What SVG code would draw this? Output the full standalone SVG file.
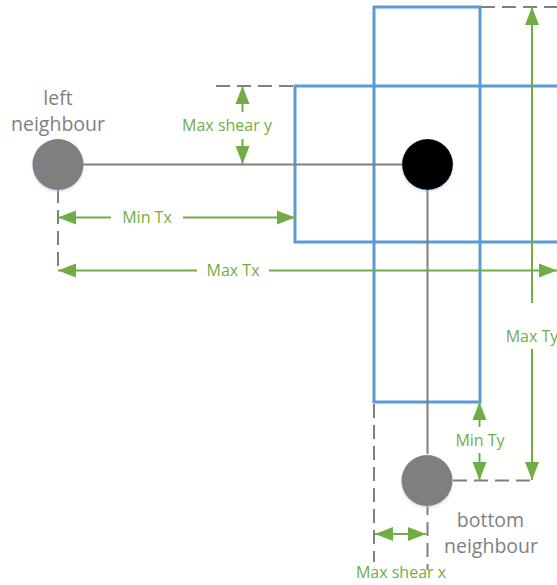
<svg xmlns="http://www.w3.org/2000/svg" width="557" height="585" viewBox="0 0 557 585">
  <style>
    .region { fill: none; stroke: #5b9bd5; stroke-width: 3; }
    .link { stroke: #808080; stroke-width: 2; fill: none; }
    .guide { stroke: #808080; stroke-width: 2; fill: none; stroke-dasharray: 14 7; }
    .dim { stroke: #70ad47; stroke-width: 2; fill: none; marker-end: url(#arrow); }
    .dim2 { stroke: #70ad47; stroke-width: 2; fill: none; marker-start: url(#arrow); marker-end: url(#arrow); }
    .dim-label { font-family: "Open Sans", "Noto Sans", sans-serif; font-size: 16px; fill: #70ad47; text-anchor: middle; }
    .node-label { font-family: "Open Sans", "Noto Sans", sans-serif; font-size: 19.5px; fill: #7f7f7f; text-anchor: middle; }
    .neighbour { fill: #7f7f7f; filter: url(#glow); }
    .centre { fill: #000000; filter: url(#glow); }
  </style>
  <defs>
    <marker id="arrow" markerUnits="userSpaceOnUse" markerWidth="18" markerHeight="15" refX="18" refY="7.5" orient="auto-start-reverse">
      <path d="M0,0.5 L18,7.5 L0,14.5 z" fill="#70ad47"/>
    </marker>
    <filter id="glow" x="-30%" y="-30%" width="160%" height="160%">
      <feDropShadow dx="0" dy="1.5" stdDeviation="1.2" flood-color="#9dc3e6" flood-opacity="0.6"/>
    </filter>
  </defs>

  <rect width="557" height="585" fill="#ffffff"/>

  <!-- translation regions -->
  <g id="region-vertical">
    <rect class="region" x="374" y="7" width="106" height="395"/>
  </g>
  <g id="region-horizontal">
    <rect class="region" x="295" y="86" width="270" height="156"/>
  </g>

  <!-- connectors and guide lines -->
  <g id="connectors">
    <line class="link" x1="83" y1="164.5" x2="402" y2="164.5"/>
    <line class="link" x1="427.5" y1="190" x2="427.5" y2="454"/>
    <line class="link" x1="427.5" y1="506" x2="427.5" y2="515"/>
    <line class="guide" x1="427.5" y1="522" x2="427.5" y2="570"/>
    <line class="link" x1="58" y1="190" x2="58" y2="203"/>
    <line class="guide" x1="58" y1="210" x2="58" y2="271"/>
    <line class="guide" x1="216" y1="86" x2="295" y2="86"/>
    <line class="guide" x1="481" y1="7" x2="557" y2="7"/>
    <line class="guide" x1="453" y1="480.5" x2="532" y2="480.5"/>
    <line class="guide" x1="374" y1="404" x2="374" y2="562"/>
  </g>

  <!-- dimension arrows -->
  <g id="dimensions">
    <line class="dim" x1="242.5" y1="112" x2="242.5" y2="86"/>
    <line class="dim" x1="242.5" y1="139" x2="242.5" y2="164"/>
    <line class="dim" x1="111" y1="217.5" x2="58" y2="217.5"/>
    <line class="dim" x1="183" y1="217.5" x2="295" y2="217.5"/>
    <line class="dim" x1="197" y1="270.5" x2="58" y2="270.5"/>
    <line class="dim" x1="269" y1="270.5" x2="557" y2="270.5"/>
    <line class="dim" x1="532" y1="303" x2="532" y2="7"/>
    <line class="dim" x1="532" y1="349" x2="532" y2="480"/>
    <line class="dim" x1="479.5" y1="427" x2="479.5" y2="402"/>
    <line class="dim" x1="479.5" y1="453" x2="479.5" y2="480"/>
    <line class="dim2" x1="375" y1="534" x2="426" y2="534"/>
    <text class="dim-label" x="227" y="131">Max shear y</text>
    <text class="dim-label" x="147" y="223">Min Tx</text>
    <text class="dim-label" x="233" y="276">Max Tx</text>
    <text class="dim-label" x="532" y="342">Max Ty</text>
    <text class="dim-label" x="480" y="446">Min Ty</text>
    <text class="dim-label" x="401" y="578">Max shear x</text>
  </g>

  <!-- nodes -->
  <g id="left-neighbour">
    <circle class="neighbour" cx="58" cy="164.5" r="25.5"/>
    <text class="node-label" x="58" y="105">left</text>
    <text class="node-label" x="58" y="131">neighbour</text>
  </g>
  <g id="centre">
    <circle class="centre" cx="427.5" cy="164.5" r="25.5"/>
  </g>
  <g id="bottom-neighbour">
    <circle class="neighbour" cx="427" cy="480.5" r="25.5"/>
    <text class="node-label" x="490.5" y="527">bottom</text>
    <text class="node-label" x="491" y="553">neighbour</text>
  </g>
</svg>
